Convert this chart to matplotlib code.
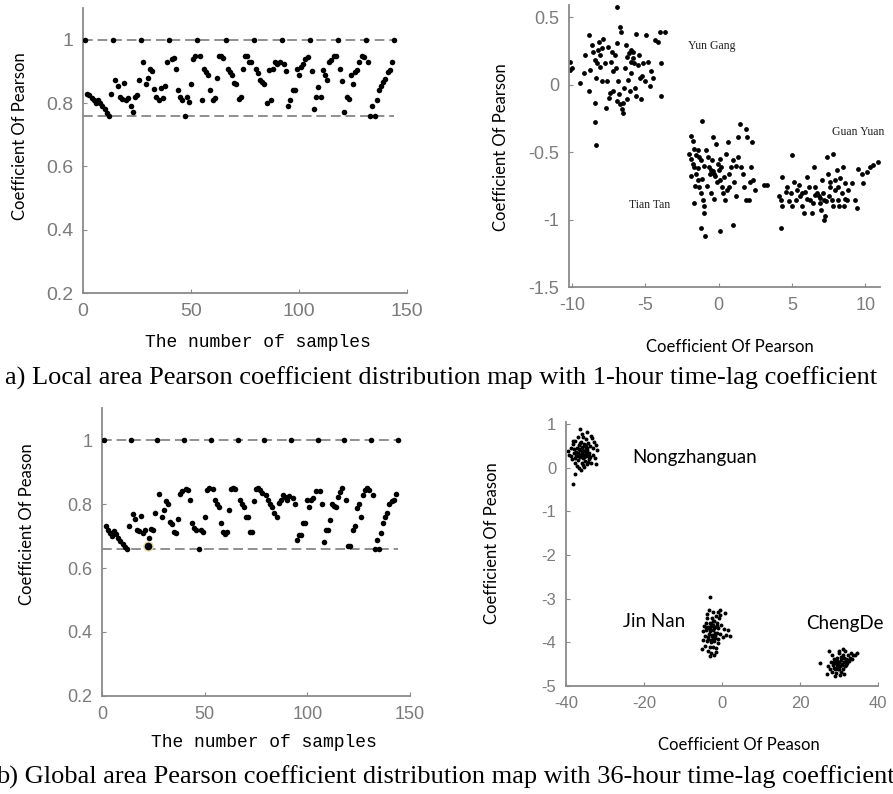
import numpy as np
import matplotlib

matplotlib.use("Agg")
import matplotlib.pyplot as plt
from matplotlib.ticker import FuncFormatter

plt.rcParams["axes.unicode_minus"] = False

# ---- data: 12x12 correlation matrices flattened row by row (144 samples) ----
local_lag1 = [
    1.00, 0.83, 0.825, 0.815, 0.81, 0.80, 0.81, 0.80, 0.79, 0.78, 0.77, 0.76,
    0.83, 1.00, 0.872, 0.853, 0.819, 0.814, 0.863, 0.808, 0.815, 0.789, 0.771, 0.819,
    0.825, 0.872, 1.00, 0.93, 0.861, 0.88, 0.908, 0.90, 0.845, 0.819, 0.808, 0.848,
    0.815, 0.853, 0.929, 1.00, 0.94, 0.943, 0.908, 0.842, 0.819, 0.808, 0.76, 0.819,
    0.803, 0.861, 0.94, 0.947, 1.00, 0.947, 0.81, 0.908, 0.898, 0.89, 0.84, 0.81,
    0.817, 0.88, 0.947, 0.947, 0.943, 1.00, 0.908, 0.898, 0.89, 0.863, 0.861, 0.814,
    0.819, 0.908, 0.947, 0.95, 0.93, 0.929, 1.00, 0.908, 0.895, 0.872, 0.866, 0.861,
    0.80, 0.903, 0.81, 0.908, 0.929, 0.922, 0.929, 1.00, 0.922, 0.90, 0.789, 0.808,
    0.84, 0.84, 0.908, 0.89, 0.914, 0.922, 0.94, 0.945, 1.00, 0.90, 0.782, 0.819,
    0.85, 0.819, 0.903, 0.89, 0.872, 0.929, 0.937, 0.947, 0.95, 1.00, 0.908, 0.87,
    0.771, 0.819, 0.814, 0.89, 0.861, 0.898, 0.905, 0.929, 0.95, 0.945, 1.00, 0.929,
    0.76, 0.789, 0.76, 0.81, 0.84, 0.855, 0.866, 0.875, 0.898, 0.905, 0.93, 1.00,
]
global_lag36 = [
    1.00, 0.73, 0.72, 0.71, 0.70, 0.715, 0.705, 0.695, 0.685, 0.675, 0.665, 0.66,
    0.73, 1.00, 0.77, 0.754, 0.72, 0.716, 0.763, 0.709, 0.72, 0.67, 0.693, 0.722,
    0.72, 0.771, 1.00, 0.83, 0.76, 0.78, 0.808, 0.80, 0.745, 0.738, 0.712, 0.709,
    0.754, 0.83, 0.842, 1.00, 0.846, 0.845, 0.813, 0.74, 0.724, 0.719, 0.66, 0.72,
    0.714, 0.76, 0.844, 0.849, 1.00, 0.846, 0.813, 0.80, 0.792, 0.74, 0.711, 0.705,
    0.711, 0.78, 0.846, 0.849, 0.846, 1.00, 0.813, 0.80, 0.792, 0.76, 0.76, 0.711,
    0.711, 0.81, 0.846, 0.849, 0.845, 0.835, 1.00, 0.828, 0.813, 0.80, 0.79, 0.771,
    0.76, 0.802, 0.813, 0.828, 0.823, 0.813, 0.826, 1.00, 0.82, 0.80, 0.688, 0.704,
    0.704, 0.74, 0.74, 0.813, 0.79, 0.813, 0.818, 0.842, 1.00, 0.842, 0.80, 0.68,
    0.719, 0.719, 0.75, 0.80, 0.794, 0.792, 0.823, 0.836, 0.849, 1.00, 0.813, 0.67,
    0.67, 0.719, 0.73, 0.787, 0.80, 0.76, 0.828, 0.844, 0.849, 0.845, 1.00, 0.828,
    0.66, 0.688, 0.66, 0.709, 0.74, 0.76, 0.771, 0.80, 0.808, 0.813, 0.83, 1.00,
]
highlight_sample = 22.5
highlight_value = 0.67

# ---- local area clusters (panel a, right) ----
yungang_x = [-10.1, -10.1, -10.0, -9.44, -9.21, -9.10, -8.87, -8.87, -8.76, -8.65, -8.53, -8.42,
             -8.42, -8.35, -8.31, -8.19, -8.13, -8.08, -8.08, -7.97, -7.97, -7.86, -7.74, -7.67,
             -7.63, -7.52, -7.45, -7.40, -7.36, -7.29, -7.18, -7.18, -7.07, -7.00, -6.95, -6.91,
             -6.84, -6.77, -6.73, -6.73, -6.68, -6.61, -6.55, -6.50, -6.46, -6.39, -6.32, -6.28,
             -6.23, -6.16, -6.09, -6.05, -6.00, -5.94, -5.94, -5.87, -5.82, -5.78, -5.71, -5.64,
             -5.60, -5.49, -5.42, -5.33, -5.26, -5.19, -5.15, -5.03, -4.92, -4.81, -4.70, -4.58,
             -4.47, -4.36, -4.13, -4.02, -3.91, -3.91, -3.68, -6.95, -8.42, -8.35]
yungang_y = [0.17, 0.11, 0.12, 0.012, 0.085, 0.22, 0.366, -0.049, 0.11, 0.293, 0.244, 0.183,
             -0.134, 0.049, 0.159, 0.256, 0.317, 0.134, 0.22, 0.024, 0.268, 0.341, 0.159, -0.171,
             0.024, 0.28, -0.098, -0.061, 0.171, 0.244, 0.098, -0.049, 0.22, 0.122, -0.122, 0.305,
             0.024, -0.073, -0.146, 0.427, 0.39, -0.183, -0.134, -0.207, -0.024, 0.122, 0.293, -0.11,
             0.207, 0.037, 0.232, -0.049, 0.256, 0.085, 0.171, 0.244, 0.195, 0.159, -0.024, -0.085,
             0.378, 0.146, 0.22, 0.049, -0.11, 0.061, 0.159, 0.024, 0.366, 0.171, -0.012, 0.098,
             0.049, 0.329, 0.317, 0.39, 0.159, -0.085, 0.39, 0.573, -0.28, -0.451]

tiantan_x = [-1.13, -1.87, -1.76, -1.65, -1.53, -1.42, -1.31, -1.20, -1.99, -1.76, -1.65, -1.53,
             -1.42, -1.31, -1.20, -1.08, -0.97, -0.86, -0.74, -0.63, -0.52, -0.45, -0.41, -0.29,
             -0.18, -0.14, -0.07, 0.05, 0.09, 0.16, 0.23, 0.27, 0.38, 0.45, 0.50, 0.61, 0.68,
             0.72, 0.84, 0.95, 1.06, 1.17, 1.29, 1.35, 1.44, 1.51, 1.63, 1.74, 1.85, 1.85, 1.96,
             2.08, 2.12, 2.19, 2.30, 2.35, 2.48, -1.20, -0.90, 0.09, 0.99, 3.09, 3.32,
             -0.35, -0.25, -0.60, -1.00, -1.40, -1.10, -0.80, -0.50, -1.60, -1.85, -1.90, -0.30,
             0.10, 0.60, 1.20, -1.70, -1.00]
tiantan_y = [-0.268, -0.378, -0.415, -0.476, -0.524, -0.488, -0.537, -0.561, -0.512, -0.585, -0.61,
             -0.659, -0.707, -0.756, -0.805, -0.854, -0.902, -0.488, -0.537, -0.61, -0.634, -0.561,
             -0.39, -0.659, -0.439, -0.72, -0.585, -0.634, -0.707, -0.61, -0.756, -0.805, -0.683,
             -0.854, -0.512, -0.427, -0.756, -0.659, -0.61, -0.561, -0.72, -0.829, -0.537, -0.39,
             -0.293, -0.61, -0.659, -0.756, -0.329, -0.854, -0.39, -0.854, -0.72, -0.61, -0.427,
             -0.707, -0.78, -1.061, -1.122, -1.085, -1.044, -0.744, -0.744,
             -0.64, -0.68, -0.66, -0.60, -0.62, -0.70, -0.75, -0.80, -0.75, -0.68, -0.55, -0.85,
             -0.55, -0.78, -0.60, -0.88, -0.95]

guanyuan_x = [4.97, 4.33, 4.11, 4.22, 4.33, 4.56, 4.67, 4.79, 4.90, 5.01, 5.12, 5.24, 5.35, 5.46,
              5.58, 5.69, 5.80, 5.91, 6.03, 6.14, 6.25, 6.37, 6.48, 6.59, 6.70, 6.82, 6.93, 7.04,
              7.16, 7.27, 7.38, 7.45, 7.49, 7.61, 7.72, 7.83, 7.83, 7.95, 8.06, 8.13, 8.17, 8.28,
              8.40, 8.51, 8.58, 8.62, 8.74, 8.85, 9.07, 9.30, 9.41, 9.53, 9.75, 9.86, 10.09, 10.32,
              10.54, 10.88, 4.22, 7.16,
              6.6, 6.9, 7.1, 7.3, 6.4, 7.6, 7.9, 8.2, 6.0, 5.7, 7.0, 8.6]
guanyuan_y = [-0.524, -0.683, -0.829, -0.854, -0.902, -0.793, -0.756, -0.866, -0.805, -0.902,
              -0.72, -0.854, -0.78, -0.744, -0.829, -0.902, -0.951, -0.793, -0.683, -0.756,
              -0.854, -0.951, -0.61, -0.756, -0.805, -0.829, -0.878, -0.707, -0.854, -0.976,
              -0.537, -0.659, -0.829, -0.756, -0.854, -0.512, -0.902, -0.707, -0.634, -0.854,
              -0.756, -0.695, -0.805, -0.61, -0.902, -0.732, -0.854, -0.78, -0.732, -0.854,
              -0.915, -0.622, -0.659, -0.732, -0.646, -0.61, -0.598, -0.573, -1.061, -1.0,
              -0.82, -0.84, -0.80, -0.86, -0.88, -0.72, -0.78, -0.90, -0.85, -0.80, -0.93, -0.85]

# ---- global area clusters (panel b, right) ----
nongzhanguan_x = [-39.6, -39.2, -38.8, -38.5, -38.3, -38.0, -37.8, -37.6, -37.5, -37.3, -37.2, -37.0,
                  -36.9, -36.8, -36.6, -36.5, -36.4, -36.3, -36.2, -36.1, -36.0, -35.9, -35.8, -35.7,
                  -35.6, -35.5, -35.4, -35.3, -35.2, -35.1, -35.0, -34.9, -34.8, -34.6, -34.5, -34.3,
                  -34.2, -34.0, -33.8, -33.6, -33.4, -33.2, -33.0, -32.8, -32.6, -32.4, -32.2, -32.0,
                  -37.8, -38.1, -36.7, -35.9, -33.5, -38.2, -34.7,
                  -37.9, -37.4, -37.0, -36.6, -36.2, -35.8, -35.4, -35.0, -34.6, -34.2, -36.8,
                  -36.0, -35.2, -34.4, -37.6, -36.4, -35.6, -34.8, -38.6, -33.9]
nongzhanguan_y = [0.38, 0.30, 0.45, 0.20, 0.55, 0.35, 0.10, 0.62, 0.28, 0.45, 0.05, 0.70,
                  0.35, 0.18, 0.52, 0.88, 0.40, 0.25, -0.05, 0.60, 0.32, 0.12, 0.48, 0.70,
                  0.22, 0.38, 0.02, 0.55, 0.30, 0.15, 0.45, 0.65, 0.28, 0.08, 0.40, 0.58,
                  0.20, 0.35, 0.50, 0.12, 0.68, 0.30, 0.45, 0.60, 0.22, 0.52, 0.08, 0.40,
                  -0.15, -0.36, 0.00, 0.78, 0.72, 0.62, 0.82,
                  0.42, 0.36, 0.26, 0.44, 0.30, 0.36, 0.24, 0.34, 0.46, 0.26, 0.32,
                  0.42, 0.50, 0.14, 0.22, 0.56, 0.06, 0.52, 0.28, 0.24]

jinnan_x = [-3.0, -3.3, -2.2, -1.0, -1.5, -3.8, -2.6, -0.8, -4.2, -3.2, -2.0, -1.2, -0.2, -4.6,
            -3.6, -2.8, -1.8, -0.9, 0.5, -4.9, -4.0, -3.0, -2.3, -1.4, -0.5, 0.9, -4.4, -3.5,
            -2.6, -1.7, -0.9, 0.2, -5.0, -3.9, -2.9, -2.0, -1.1, -4.3, -3.2, -2.4, -1.5, -5.2,
            -3.6, -2.7, -3.2, -2.0, -1.6, -3.8, -2.4, -3.4, -1.9, 1.6, -0.4, 2.0, -0.55, 0.73,
            -3.4, -2.9, -2.5, -2.1, -1.7, -3.7, -3.1, -2.2, -1.3, -4.1, -2.8, -2.3]
jinnan_y = [-2.95, -3.25, -3.30, -3.30, -3.40, -3.45, -3.45, -3.45, -3.55, -3.55, -3.52, -3.55,
            -3.60, -3.62, -3.65, -3.62, -3.65, -3.68, -3.70, -3.75, -3.72, -3.75, -3.72, -3.78,
            -3.80, -3.82, -3.85, -3.88, -3.85, -3.90, -3.92, -3.88, -3.95, -3.98, -4.00, -3.98,
            -4.02, -4.08, -4.10, -4.10, -4.12, -4.15, -4.20, -4.25, -4.32, -4.28, -4.22, -3.35,
            -3.60, -3.80, -3.78, -3.72, -3.38, -3.85, -3.25, -3.33,
            -3.68, -3.58, -3.82, -3.68, -3.85, -3.92, -3.70, -3.92, -3.62, -3.65, -3.95, -3.50]

chengde_x = [25.0, 26.8, 27.2, 27.5, 27.8, 28.0, 28.2, 28.5, 28.7, 28.9, 29.1, 29.3, 29.5, 29.6,
             29.8, 30.0, 30.1, 30.3, 30.4, 30.6, 30.8, 31.0, 31.1, 31.3, 31.5, 31.6, 31.8, 32.0,
             32.2, 32.5, 32.8, 33.0, 33.3, 33.6, 34.0, 34.5, 29.0, 30.2, 28.3, 31.2, 29.9, 30.9,
             28.6, 29.4, 30.0, 30.7, 31.4, 32.1, 29.7, 30.5, 31.9, 28.8]
chengde_y = [-4.48, -4.72, -4.55, -4.20, -4.62, -4.45, -4.68, -4.52, -4.38, -4.60, -4.48, -4.70,
             -4.55, -4.35, -4.62, -4.45, -4.25, -4.55, -4.68, -4.40, -4.50, -4.60, -4.30, -4.45,
             -4.20, -4.55, -4.38, -4.48, -4.30, -4.42, -4.35, -4.25, -4.38, -4.30, -4.28, -4.25,
             -4.78, -4.75, -4.30, -4.72, -4.20, -4.15,
             -4.58, -4.42, -4.60, -4.52, -4.36, -4.40, -4.50, -4.34, -4.52, -4.45]

FIG_W, FIG_H = 893, 794
GRAY = "#8a8a8a"
TICK_GRAY = "#7b7b7b"
SANS = "Liberation Sans"
LABEL_FONT = "Lato"


def _rect(left, right, top, bottom):
    # pixel box -> figure fraction
    return [left / FIG_W, 1 - bottom / FIG_H, (right - left) / FIG_W, (bottom - top) / FIG_H]


def _style(ax, tick_size):
    for side in ("top", "right"):
        ax.spines[side].set_visible(False)
    for side in ("left", "bottom"):
        ax.spines[side].set_color(GRAY)
        ax.spines[side].set_linewidth(1.3)
    ax.tick_params(direction="in", length=3, width=0.8, color=GRAY, labelcolor=TICK_GRAY,
                   labelsize=tick_size, pad=7)
    for lab in ax.get_xticklabels() + ax.get_yticklabels():
        lab.set_family(SANS)
    ax.yaxis.set_major_formatter(FuncFormatter(lambda v, _: f"{v:g}"))
    ax.xaxis.set_major_formatter(FuncFormatter(lambda v, _: f"{v:g}"))


def sample_panel(ax, values, ylabel, label_xy, xlabel_xy, tick_size):
    samples = np.arange(1, len(values) + 1)
    values = np.asarray(values)
    lo = values.min()
    for level in (1.0, lo):
        ax.plot([0, 144], [level, level], color="#8f8f8f", lw=1.4, ls=(0, (5, 2.5)), zorder=1)
    ax.scatter(samples, values, s=16, color="black", linewidths=0, zorder=3)
    ax.set_xlim(0, 150)
    ax.set_ylim(0.2, 1.1)
    ax.set_xticks([0, 50, 100, 150])
    ax.set_yticks([0.2, 0.4, 0.6, 0.8, 1.0])
    _style(ax, tick_size)
    ax.set_ylabel(ylabel, family=LABEL_FONT, fontsize=12, va="center", ha="center")
    ax.yaxis.set_label_coords(*label_xy)
    ax.set_xlabel("The number of samples", family="Liberation Mono", fontsize=13,
                  va="center", ha="center")
    ax.xaxis.set_label_coords(*xlabel_xy)


def main() -> None:
    fig = plt.figure(figsize=(FIG_W / 100, FIG_H / 100), dpi=100)

    # a) left
    ax1 = fig.add_axes(_rect(83, 407, 8, 293))
    sample_panel(ax1, local_lag1, "Coefficient Of Pearson", (-0.194, 0.549), (0.540, -0.175), 14)

    # a) right
    ax2 = fig.add_axes(_rect(569, 880, 5, 287))
    for cx, cy in ((yungang_x, yungang_y), (tiantan_x, tiantan_y), (guanyuan_x, guanyuan_y)):
        ax2.scatter(cx, cy, s=12, color="black", linewidths=0)
    ax2.set_xlim(-10.2, 11)
    ax2.set_ylim(-1.5, 0.59)
    ax2.set_xticks([-10, -5, 0, 5, 10])
    ax2.set_yticks([-1.5, -1, -0.5, 0, 0.5])
    _style(ax2, 13)
    serif = dict(family="Liberation Serif", fontsize=8.5, color="#222222", ha="center", va="center")
    ax2.text(-0.5, 0.284, "Yun Gang", **serif)
    ax2.text(9.5, -0.354, "Guan Yuan", **serif)
    ax2.text(-4.7, -0.894, "Tian Tan", **serif)
    ax2.set_ylabel("Coefficient Of Pearson", family=LABEL_FONT, fontsize=12, va="center", ha="center")
    ax2.yaxis.set_label_coords(-0.218, 0.496)
    ax2.set_xlabel("Coefficient Of Pearson", family=LABEL_FONT, fontsize=12, va="center", ha="center")
    ax2.xaxis.set_label_coords(0.517, -0.2135)

    # b) left
    ax3 = fig.add_axes(_rect(102, 410, 408, 696))
    sample_panel(ax3, global_lag36, "Coefficient Of Peason", (-0.2435, 0.597), (0.526, -0.16), 13)
    ax3.plot([highlight_sample], [highlight_value], "o", ms=6.5, mfc="black", mec="#e6dc9a",
             mew=1.0, zorder=4)

    # b) right
    ax4 = fig.add_axes(_rect(566, 878, 422, 686))
    for cx, cy in ((nongzhanguan_x, nongzhanguan_y), (jinnan_x, jinnan_y), (chengde_x, chengde_y)):
        ax4.scatter(cx, cy, s=8, color="black", linewidths=0)
    ax4.set_xlim(-40, 40)
    ax4.set_ylim(-5, 1.05)
    ax4.set_xticks([-40, -20, 0, 20, 40])
    ax4.set_yticks([-5, -4, -3, -2, -1, 0, 1])
    _style(ax4, 12)
    sans = dict(family=LABEL_FONT, fontsize=13.5, color="black", ha="left", va="center")
    ax4.text(-23.1, 0.24, "Nongzhanguan", **sans)
    ax4.text(-25.4, -3.53, "Jin Nan", **sans)
    ax4.text(21.6, -3.56, "ChengDe", **sans)
    ax4.set_ylabel("Coefficient Of Peason", family=LABEL_FONT, fontsize=12, va="center", ha="center")
    ax4.yaxis.set_label_coords(-0.237, 0.541)
    ax4.set_xlabel("Coefficient Of Peason", family=LABEL_FONT, fontsize=12, va="center", ha="center")
    ax4.xaxis.set_label_coords(0.554, -0.223)

    cap = dict(family="Liberation Serif", fontsize=19, color="black", va="center", ha="left")
    fig.text(5 / FIG_W, 1 - 378 / FIG_H,
             "a) Local area Pearson coefficient distribution map with 1-hour time-lag coefficient", **cap)
    fig.text(-4 / FIG_W, 1 - 777 / FIG_H,
             "b) Global area Pearson coefficient distribution map with 36-hour time-lag coefficient", **cap)

    fig.savefig("out.png", dpi=100)
    plt.close(fig)


if __name__ == "__main__":
    main()
